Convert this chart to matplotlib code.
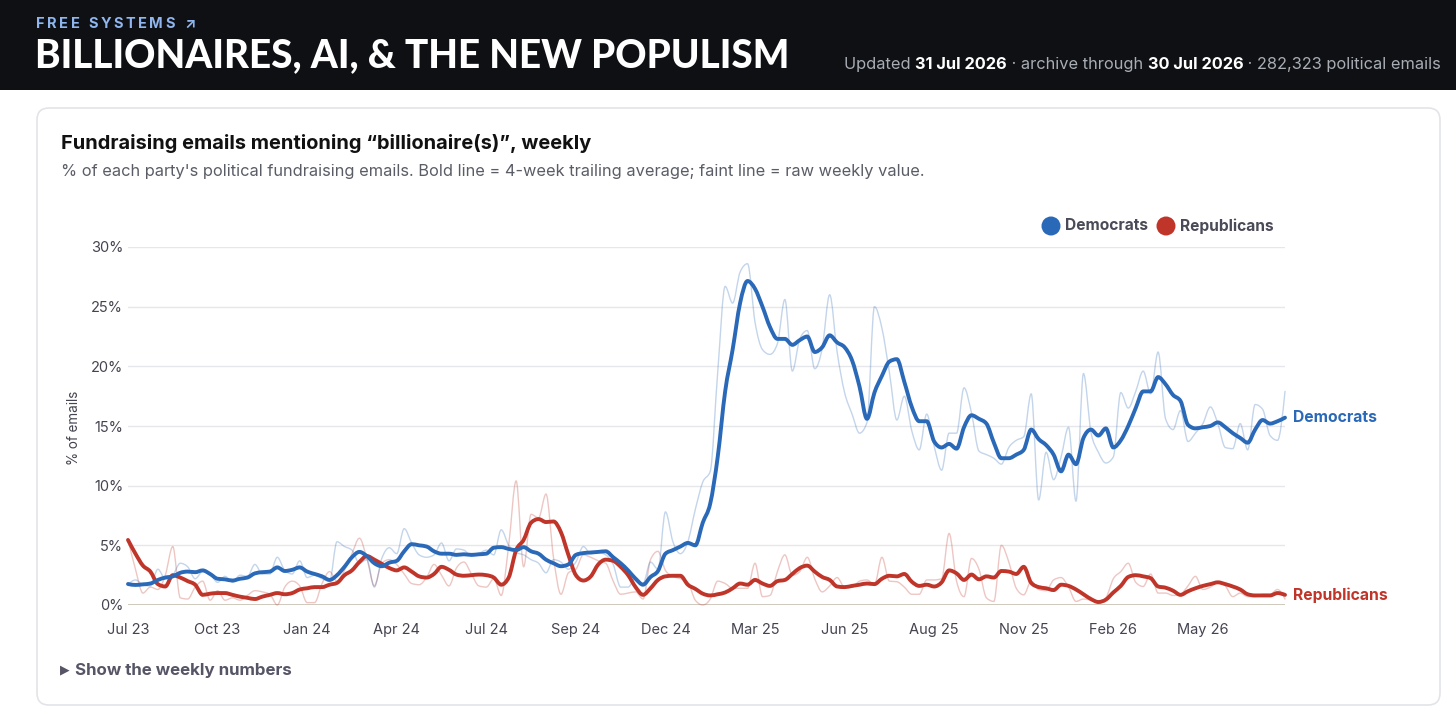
import numpy as np
import matplotlib
matplotlib.use("Agg")
import matplotlib.pyplot as plt
from matplotlib.patches import FancyBboxPatch, Rectangle, Circle, PathPatch
from matplotlib.path import Path
from matplotlib.transforms import IdentityTransform

# ---------------- data (weekly, starting week of 31 Jul 2023) ----------------
tick_weeks = [0, 12, 24, 36, 48, 60, 72, 84, 96, 108, 120, 132, 144]
tick_labels = ["Jul 23", "Oct 23", "Jan 24", "Apr 24", "Jul 24", "Sep 24", "Dec 24",
               "Mar 25", "Jun 25", "Aug 25", "Nov 25", "Feb 26", "May 26"]

dem_avg = [1.76, 1.68, 1.73, 1.8, 2.1, 2.3, 2.4, 2.7, 2.8, 2.75, 2.9, 2.6, 2.2, 2.15, 2.05, 2.2, 2.3, 2.65, 2.75, 2.8, 3.15, 2.85, 2.95, 3.15, 2.8, 2.6,
           2.4, 2.1, 2.5, 3.2, 4.0, 4.45, 4.1, 3.5, 3.25, 3.55, 3.7, 4.5, 5.1, 5.0, 4.9, 4.5, 4.3, 4.3, 4.2, 4.25, 4.2, 4.25, 4.3, 4.8, 4.85,
           4.7, 4.6, 4.85, 4.5, 4.3, 3.8, 3.5, 3.25, 3.4, 4.2, 4.35, 4.4, 4.45, 4.5, 4.0, 3.5, 2.9, 2.2, 1.7, 2.35, 2.85, 4.3, 4.6, 4.9, 5.2, 5.0,
           6.9, 8.5, 12.4, 17.9, 21.4, 25.3, 27.15, 26.5, 25.0, 23.3, 22.3, 22.3, 21.8, 22.2, 22.5, 21.2, 21.6, 22.6, 22.0, 21.6, 20.5, 18.3, 15.6, 17.8, 19.2, 20.4,
           20.6, 18.7, 16.6, 15.4, 15.4, 13.7, 13.2, 13.5, 13.1, 14.9, 15.9, 15.6, 15.2, 13.6, 12.3, 12.3, 12.6, 13.0, 14.7, 13.9, 13.4, 12.6, 11.2, 12.6, 11.8, 14.0,
           14.7, 14.2, 14.8, 13.2, 13.8, 15.0, 16.5, 17.9, 17.9, 19.1, 18.5, 17.6, 17.1, 15.1, 14.8, 14.9, 15.0, 15.3, 14.9, 14.4, 14.0, 13.6, 14.7, 15.5, 15.2, 15.4, 15.7]

dem_raw = [1.7, 2.1, 1.7, 1.6, 3.0, 2.2, 2.5, 3.5, 3.2, 2.2, 2.8, 2.6, 1.9, 2.4, 1.9, 2.5, 2.4, 3.4, 2.6, 2.6, 4.0, 2.9, 2.6, 3.7, 2.3, 2.5,
           2.2, 2.0, 5.3, 4.9, 4.6, 3.5, 3.8, 1.5, 3.9, 4.8, 4.3, 6.4, 5.2, 4.2, 4.0, 4.2, 5.2, 3.7, 4.7, 4.6, 4.1, 4.3, 4.6, 4.2, 6.3,
           5.0, 4.4, 4.2, 3.8, 3.5, 2.7, 3.8, 3.6, 3.0, 3.6, 4.9, 4.3, 4.4, 4.2, 3.4, 1.5, 1.5, 2.3, 1.8, 3.6, 3.0, 7.8, 5.3, 4.3, 5.3, 8.0,
           10.3, 11.2, 19.5, 26.7, 25.3, 27.9, 28.6, 23.7, 21.4, 21.0, 21.9, 25.6, 19.6, 22.3, 23.0, 19.8, 21.5, 26.0, 21.2, 17.8, 16.0, 14.4, 15.3, 25.0, 23.2, 19.5,
           15.5, 17.5, 14.6, 13.0, 16.0, 13.3, 11.3, 14.4, 14.4, 18.2, 16.1, 12.9, 12.6, 12.3, 11.8, 13.2, 13.8, 14.1, 17.7, 8.8, 12.8, 10.5, 12.4, 14.9, 8.7, 19.4,
           14.5, 12.8, 11.9, 12.4, 17.8, 16.5, 17.9, 19.6, 17.7, 21.2, 15.6, 14.7, 16.3, 13.7, 14.4, 15.2, 16.6, 15.2, 13.2, 13.1, 15.2, 13.0, 16.8, 16.4, 14.2, 13.8, 17.9]

rep_avg = [5.45, 4.3, 3.3, 2.8, 1.75, 1.55, 2.5, 2.3, 2.0, 1.7, 0.85, 0.95, 1.0, 1.0, 0.85, 0.7, 0.6, 0.5, 0.7, 0.85, 1.0, 0.9, 1.0, 1.3, 1.4, 1.5,
           1.5, 1.7, 1.85, 2.5, 2.9, 3.6, 4.1, 3.8, 3.45, 3.1, 2.9, 3.15, 2.8, 2.4, 2.3, 2.6, 3.2, 2.95, 2.55, 2.45, 2.5, 2.55, 2.5, 2.3, 1.7,
           2.3, 4.6, 5.45, 6.9, 7.2, 6.95, 7.0, 6.1, 4.2, 2.5, 2.05, 2.4, 3.4, 3.8, 3.7, 3.2, 2.5, 1.5, 0.85, 1.4, 2.1, 2.4, 2.45, 2.45, 1.7, 1.35,
           0.95, 0.8, 0.9, 1.05, 1.4, 1.8, 1.7, 2.1, 1.8, 1.6, 2.0, 2.1, 2.6, 3.1, 3.3, 2.8, 2.35, 2.1, 1.55, 1.5, 1.6, 1.7, 1.8, 1.75, 2.2, 2.45,
           2.4, 2.6, 1.95, 1.6, 1.7, 1.55, 1.9, 2.9, 2.65, 2.1, 2.55, 2.15, 2.4, 2.3, 2.85, 2.8, 2.6, 3.2, 1.85, 1.5, 1.4, 1.25, 1.7, 1.6, 1.3, 0.9,
           0.5, 0.25, 0.45, 1.05, 1.6, 2.35, 2.5, 2.4, 2.25, 1.55, 1.45, 1.2, 0.85, 1.15, 1.4, 1.6, 1.75, 1.9, 1.75, 1.55, 1.3, 0.9, 0.8, 0.8, 0.8, 1.0, 0.85]

rep_raw = [5.5, 3.0, 1.0, 1.5, 1.3, 2.5, 4.9, 0.6, 0.5, 1.5, 2.0, 0.4, 1.2, 0.4, 0.6, 0.4, 0.8, 1.2, 1.1, 0.9, 0.0, 1.5, 2.0, 1.6, 0.2, 0.2,
           1.8, 2.8, 2.0, 2.9, 4.3, 5.6, 3.9, 1.6, 3.5, 3.8, 3.4, 2.6, 1.8, 1.7, 2.3, 3.4, 2.5, 1.6, 3.1, 3.6, 2.6, 1.6, 1.5, 2.2, 0.8,
           5.0, 10.4, 3.2, 7.6, 7.3, 9.3, 4.0, 0.9, 2.7, 3.0, 4.2, 4.0, 3.7, 3.5, 2.0, 0.9, 1.0, 1.1, 0.5, 3.8, 4.5, 2.9, 2.4, 2.2, 1.9, 0.4,
           0.0, 0.5, 2.0, 1.8, 1.4, 1.4, 1.4, 3.5, 0.7, 0.8, 2.8, 4.2, 2.5, 2.8, 4.0, 2.2, 1.1, 1.6, 2.3, 1.5, 1.5, 2.0, 2.1, 1.7, 4.0, 2.0,
           1.95, 1.5, 0.9, 0.9, 2.1, 2.1, 2.2, 6.0, 2.0, 0.7, 3.9, 3.0, 0.6, 0.3, 5.0, 3.6, 1.4, 0.85, 2.0, 1.3, 1.2, 2.1, 2.3, 1.5, 0.3, 0.5,
           0.4, 0.2, 0.6, 2.2, 2.8, 3.5, 1.9, 1.55, 2.6, 1.0, 1.0, 0.8, 0.9, 1.6, 2.4, 1.3, 1.5, 1.9, 1.6, 0.7, 1.0, 0.7, 0.7, 0.9, 0.9, 1.3, 0.5]

series_names = ["Democrats", "Republicans"]

# ---------------- style ----------------
BLUE = "#2a68b8"
RED = "#c0352a"
GREY_TXT = "#4a4a58"
FONT = ["Inter", "DejaVu Sans"]
plt.rcParams["font.family"] = FONT

W, H = 1456, 718
fig = plt.figure(figsize=(W / 100, H / 100), dpi=100)
fig.patch.set_facecolor("white")


def fx(x):
    return x / W


def fy(y):
    return 1 - y / H


def monotone_path(xs, ys):
    """Monotone-x cubic Bezier path through the points (curve style only)."""
    x = np.asarray(xs, float)
    y = np.asarray(ys, float)
    n = len(x)
    h = np.diff(x)
    s = np.diff(y) / h
    t = np.zeros(n)
    for i in range(1, n - 1):
        s0, s1 = s[i - 1], s[i]
        p = (s0 * h[i] + s1 * h[i - 1]) / (h[i - 1] + h[i])
        t[i] = (np.sign(s0) + np.sign(s1)) * min(abs(s0), abs(s1), 0.5 * abs(p))
    t[0] = (3 * s[0] - t[1]) / 2
    t[-1] = (3 * s[-1] - t[-2]) / 2
    verts = [(x[0], y[0])]
    codes = [Path.MOVETO]
    for i in range(n - 1):
        dx = h[i] / 3
        verts += [(x[i] + dx, y[i] + dx * t[i]),
                  (x[i + 1] - dx, y[i + 1] - dx * t[i + 1]),
                  (x[i + 1], y[i + 1])]
        codes += [Path.CURVE4] * 3
    return Path(verts, codes)


# header band
fig.add_artist(Rectangle((0, fy(90)), 1, 90 / H, transform=fig.transFigure,
                         facecolor="#0e1013", edgecolor="none", zorder=0))

renderer = fig.canvas.get_renderer()


def spaced(x, y, s, spacing, **kw):
    for ch in s:
        t = fig.text(fx(x), fy(y), ch, **kw)
        w = t.get_window_extent(renderer).width
        x += w + spacing


spaced(36, 28, "FREE SYSTEMS ↗", 2.6, color="#8fb6ee", fontsize=10.5,
       fontweight="bold", va="baseline", family=["Inter", "DejaVu Sans"])

fig.text(fx(35), fy(67), "BILLIONAIRES, AI, & THE NEW POPULISM", color="white",
         fontsize=27.8, fontweight="black", va="baseline",
         family=["Lato", "DejaVu Sans"])

# right header info, right aligned
pieces = [("Updated ", False), ("31 Jul 2026", True), (" · archive through ", False),
          ("30 Jul 2026", True), (" · 282,323 political emails", False)]
texts = []
for s, b in pieces:
    t = fig.text(0, fy(69), s, fontsize=11.8, va="baseline",
                 color="white" if b else "#a9aeb6",
                 fontweight="bold" if b else "normal")
    texts.append(t)
widths = [t.get_window_extent(renderer).width for t in texts]
x = 1441 - sum(widths)
for t, w in zip(texts, widths):
    t.set_x(fx(x))
    x += w

# card
fig.add_artist(FancyBboxPatch((37, H - 705), 1403, 597,
                              boxstyle="round,pad=0,rounding_size=12",
                              transform=IdentityTransform(), facecolor="white",
                              edgecolor="#e2e4e8", linewidth=1.2, zorder=0))

fig.text(fx(61), fy(149), "Fundraising emails mentioning “billionaire(s)”, weekly",
         fontsize=14.4, fontweight="bold", color="#111111", va="baseline")
fig.text(fx(61), fy(176),
         "% of each party's political fundraising emails. Bold line = 4-week trailing average; faint line = raw weekly value.",
         fontsize=11.8, color="#5a5d66", va="baseline")

# legend
for cx, tx, col, name in [(1051, 1065, BLUE, series_names[0]), (1166, 1180, RED, series_names[1])]:
    fig.add_artist(Circle((cx, H - 226), 9.5, transform=IdentityTransform(),
                          facecolor=col, edgecolor="none"))
    fig.text(fx(tx), fy(226), name, fontsize=11.2, fontweight="bold", color=GREY_TXT,
             va="center")

# axes
ax = fig.add_axes([fx(128), fy(605), (1285 - 128) / W, (605 - 247) / H])
ax.set_xlim(0, 155)
ax.set_ylim(0, 30)
for sp in ax.spines.values():
    sp.set_visible(False)
ax.set_yticks(range(0, 31, 5))
ax.set_yticklabels([f"{v}%" for v in range(0, 31, 5)])
ax.set_xticks(tick_weeks)
ax.set_xticklabels(tick_labels)
ax.tick_params(axis="both", length=0, labelsize=10.5, labelcolor="#444450")
ax.tick_params(axis="y", pad=3.5)
ax.tick_params(axis="x", pad=13)
for v in range(5, 31, 5):
    ax.axhline(v, color="#e6e7ea", lw=1, zorder=0)
ax.axhline(0, color="#c9c5b8", lw=1.3, zorder=1)
fig.text(fx(74), fy(428), "% of emails", rotation=90, fontsize=9.7,
         color="#444450", ha="center", va="center")

for data, col, lw, alpha, z in [(rep_raw, RED, 1.0, 0.28, 2), (dem_raw, BLUE, 1.0, 0.28, 2),
                                (rep_avg, RED, 2.8, 1.0, 4), (dem_avg, BLUE, 2.8, 1.0, 5)]:
    path = monotone_path(np.arange(len(data)), data)
    ax.add_patch(PathPatch(path, fill=False, edgecolor=col, lw=lw, alpha=alpha,
                           zorder=z, capstyle="round", joinstyle="round",
                           clip_on=False))

ax.annotate(series_names[0], (len(dem_avg) - 1, dem_avg[-1]), xytext=(8, 0),
            textcoords="offset pixels", va="center", ha="left", fontsize=11.3,
            fontweight="bold", color=BLUE, annotation_clip=False)
ax.annotate(series_names[1], (len(rep_avg) - 1, rep_avg[-1]), xytext=(8, 0),
            textcoords="offset pixels", va="center", ha="left", fontsize=11.3,
            fontweight="bold", color=RED, annotation_clip=False)

# footer toggle
fig.text(fx(60), fy(670), "▶", fontsize=9, color="#555566", va="center",
         family=["DejaVu Sans"])
fig.text(fx(75), fy(670), "Show the weekly numbers", fontsize=12.2,
         fontweight="bold", color="#555566", va="center")

fig.savefig("out.png", dpi=100, facecolor="white")
